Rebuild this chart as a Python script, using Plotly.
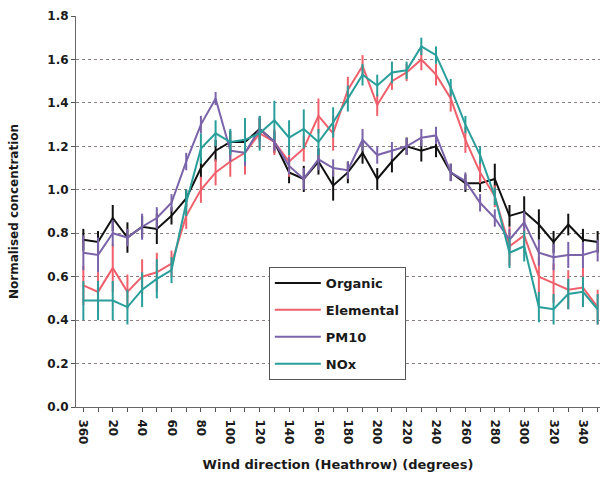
import plotly.graph_objects as go

directions = [360, 10, 20, 30, 40, 50, 60, 70, 80, 90, 100, 110, 120, 130, 140, 150, 160, 170,
              180, 190, 200, 210, 220, 230, 240, 250, 260, 270, 280, 290, 300, 310, 320, 330, 340, 350]

organic = [0.77, 0.76, 0.87, 0.78, 0.83, 0.82, 0.88, 0.96, 1.10, 1.18, 1.22, 1.22, 1.28, 1.22, 1.08, 1.05,
           1.13, 1.02, 1.08, 1.17, 1.05, 1.13, 1.20, 1.18, 1.20, 1.08, 1.03, 1.03, 1.05, 0.88, 0.90, 0.84,
           0.76, 0.84, 0.77, 0.76]
organic_err = [0.05, 0.05, 0.06, 0.07, 0.05, 0.07, 0.04, 0.04, 0.05, 0.05, 0.05, 0.05, 0.05, 0.05, 0.05, 0.06,
               0.06, 0.07, 0.05, 0.05, 0.05, 0.05, 0.04, 0.05, 0.05, 0.04, 0.04, 0.04, 0.07, 0.05, 0.07, 0.07,
               0.05, 0.05, 0.05, 0.05]

elemental = [0.56, 0.53, 0.64, 0.53, 0.60, 0.62, 0.66, 0.88, 1.00, 1.08, 1.13, 1.17, 1.26, 1.22, 1.13, 1.19,
             1.34, 1.26, 1.46, 1.57, 1.39, 1.50, 1.54, 1.60, 1.53, 1.42, 1.23, 1.08, 0.97, 0.74, 0.79, 0.60,
             0.57, 0.54, 0.55, 0.46]
elemental_err = [0.09, 0.09, 0.11, 0.08, 0.08, 0.09, 0.06, 0.06, 0.06, 0.06, 0.07, 0.10, 0.07, 0.06, 0.07, 0.06,
                 0.08, 0.08, 0.06, 0.05, 0.05, 0.04, 0.04, 0.05, 0.05, 0.06, 0.06, 0.05, 0.05, 0.09, 0.08, 0.09,
                 0.09, 0.09, 0.09, 0.08]

pm10 = [0.71, 0.70, 0.80, 0.78, 0.83, 0.87, 0.94, 1.13, 1.30, 1.42, 1.18, 1.17, 1.28, 1.22, 1.11, 1.05,
        1.14, 1.10, 1.09, 1.23, 1.16, 1.18, 1.20, 1.24, 1.25, 1.08, 1.04, 0.94, 0.87, 0.77, 0.85, 0.71,
        0.69, 0.70, 0.70, 0.72]
pm10_err = [0.08, 0.08, 0.06, 0.04, 0.06, 0.05, 0.04, 0.04, 0.04, 0.03, 0.05, 0.06, 0.06, 0.04, 0.04, 0.05,
            0.05, 0.04, 0.04, 0.05, 0.04, 0.04, 0.04, 0.04, 0.04, 0.04, 0.04, 0.04, 0.04, 0.05, 0.05, 0.06,
            0.06, 0.06, 0.06, 0.05]

nox = [0.49, 0.49, 0.49, 0.46, 0.54, 0.59, 0.63, 0.94, 1.19, 1.26, 1.22, 1.23, 1.26, 1.32, 1.24, 1.28,
       1.22, 1.31, 1.42, 1.53, 1.48, 1.54, 1.55, 1.66, 1.62, 1.47, 1.30, 1.16, 0.97, 0.71, 0.74, 0.46,
       0.45, 0.52, 0.53, 0.45]
nox_err = [0.09, 0.09, 0.09, 0.08, 0.08, 0.09, 0.06, 0.06, 0.07, 0.06, 0.06, 0.10, 0.08, 0.09, 0.08, 0.09,
           0.06, 0.07, 0.06, 0.05, 0.05, 0.05, 0.04, 0.04, 0.04, 0.04, 0.04, 0.04, 0.04, 0.07, 0.07, 0.07,
           0.07, 0.07, 0.07, 0.07]

tick_labels = [str(d) if i % 2 == 0 else "" for i, d in enumerate(directions)]

series = [
    ("Organic", organic, organic_err, "#111111"),
    ("Elemental", elemental, elemental_err, "#f0606c"),
    ("PM10", pm10, pm10_err, "#7a63a8"),
    ("NOx", nox, nox_err, "#2a9e9a"),
]

idx = list(range(len(directions)))
fig = go.Figure()
for name, vals, errs, col in series:
    fig.add_trace(go.Scatter(
        x=idx, y=vals, name=name, mode="lines", legendgroup=name,
        line=dict(color=col, width=2),
        error_y=dict(type="data", array=errs, color=col, thickness=2, width=0),
    ))

font_family = "DejaVu Sans, sans-serif"
fig.update_layout(
    width=600, height=482,
    margin=dict(l=76, r=0, t=16, b=75),
    paper_bgcolor="white", plot_bgcolor="white",
    font=dict(family=font_family, size=12, color="#1a1a1a"),
    showlegend=True,
    legend=dict(
        x=0.368, y=0.358, xanchor="left", yanchor="top",
        bgcolor="white", bordercolor="#555555", borderwidth=1,
        font=dict(size=13, weight="bold"), tracegroupgap=7, itemwidth=46,
    ),
    xaxis=dict(
        range=[-0.5, 35.16], tickmode="array", tickvals=idx, ticktext=tick_labels,
        tickangle=90, ticks="outside", ticklen=4, tickcolor="#555555",
        showline=True, linecolor="#666666", linewidth=1, showgrid=False, zeroline=False,
        tickfont=dict(size=12, weight="bold"), ticklabelstandoff=5,
        title=dict(text="Wind direction (Heathrow) (degrees)", font=dict(size=13, weight="bold"), standoff=16),
    ),
    yaxis=dict(
        range=[0, 1.8], dtick=0.2, tickformat=".1f",
        ticks="outside", ticklen=4, tickcolor="#555555",
        showline=True, linecolor="#666666", linewidth=1,
        showgrid=True, gridcolor="#8a7f7f", griddash="dot", gridwidth=1, zeroline=False,
        tickfont=dict(size=12, weight="bold"),
        title=dict(text="Normalised concentration", font=dict(size=12, weight="bold"), standoff=26),
    ),
)

fig.write_html("out.html")
